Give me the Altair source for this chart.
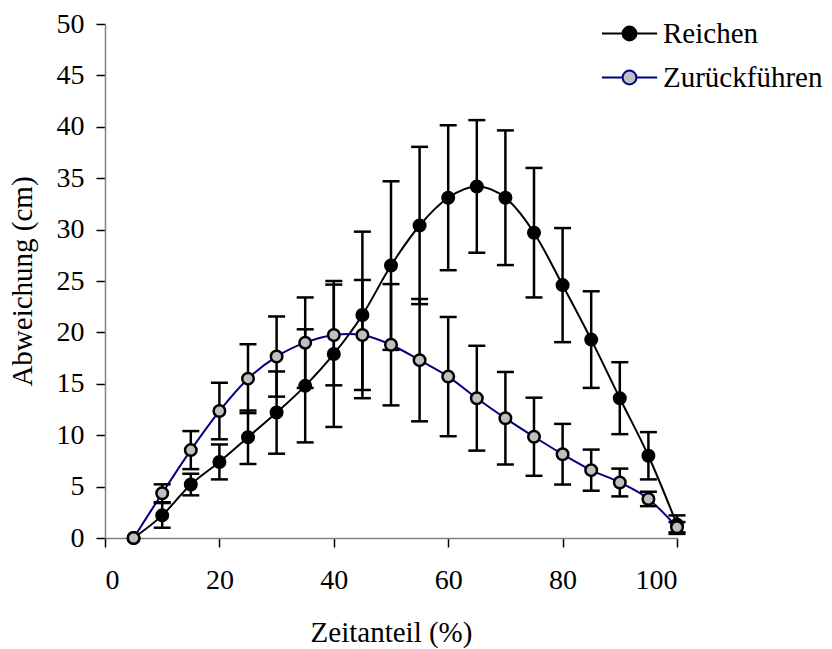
import altair as alt
import pandas as pd

# ---- data ----
zeit = [5, 10, 15, 20, 25, 30, 35, 40, 45, 50, 55, 60, 65, 70, 75, 80, 85, 90, 95, 100]
reichen = [0, 2.2, 5.2, 7.4, 9.8, 12.2, 14.8, 17.9, 21.7, 26.5, 30.4, 33.1, 34.2, 33.1, 29.7, 24.6, 19.3, 13.6, 8.0, 1.3]
reichen_err = [0, 1.2, 1.05, 1.7, 2.6, 4.0, 5.5, 7.1, 8.1, 8.2, 7.65, 7.05, 6.45, 6.55, 6.3, 5.55, 4.7, 3.5, 2.3, 0.9]
zurueck = [0, 4.35, 8.55, 12.35, 15.5, 17.65, 19.0, 19.75, 19.75, 18.8, 17.3, 15.7, 13.6, 11.65, 9.85, 8.15, 6.6, 5.4, 3.8, 1.05]
zurueck_err = [0, 0.87, 1.85, 2.75, 3.35, 3.9, 4.4, 4.9, 5.35, 5.9, 5.95, 5.8, 5.1, 4.5, 3.8, 2.95, 2.0, 1.35, 0.7, 0.5]
series_names = ["Reichen", "Zurückführen"]
x_ticks = [0, 20, 40, 60, 80, 100]
y_ticks = [0, 5, 10, 15, 20, 25, 30, 35, 40, 45, 50]

rows = []
for name, vals, errs in [(series_names[0], reichen, reichen_err), (series_names[1], zurueck, zurueck_err)]:
    for x, v, e in zip(zeit, vals, errs):
        rows.append({"x": x, "v": v, "err": e, "lo": v - e, "hi": v + e, "series": name})
df = pd.DataFrame(rows)

FONT = "'Liberation Serif', 'Times New Roman', serif"
stroke_scale = alt.Scale(domain=series_names, range=["black", "#000080"])
fill_scale = alt.Scale(domain=series_names, range=["black", "#c0c0c0"])

legend = alt.Legend(
    title=None, orient="none", legendX=510, legendY=-5,
    symbolType="M-4,0 L-1,0 M1,0 L4,0 M1,0 A1,1 0 1,1 -1,0 A1,1 0 1,1 1,0 Z",
    symbolSize=190, symbolStrokeWidth=2, labelOffset=19,
    labelFont=FONT, labelFontSize=29, labelColor="black",
    rowPadding=14, padding=0, symbolOpacity=1,
)

xenc = alt.X("x:Q", scale=alt.Scale(domain=[0, 100], nice=False),
             axis=alt.Axis(values=x_ticks, title="Zeitanteil (%)", grid=False,
                           tickSize=9, tickColor="black", tickWidth=1.5,
                           domainColor="#808080", domainWidth=1.5,
                           labelFont=FONT, labelFontSize=28, labelColor="black", labelPadding=19,
                           titleFont=FONT, titleFontSize=29, titleFontWeight="normal", titleColor="black",
                           titleY=80))
yenc = alt.Y("v:Q", scale=alt.Scale(domain=[0, 50], nice=False),
             axis=alt.Axis(values=y_ticks, title="Abweichung (cm)", grid=False,
                           tickSize=9, tickColor="black", tickWidth=1.5,
                           domainColor="#808080", domainWidth=1.5,
                           labelFont=FONT, labelFontSize=28, labelColor="black", labelPadding=12,
                           titleFont=FONT, titleFontSize=29, titleFontWeight="normal", titleColor="black",
                           titleX=-68, titleY=257))

base = alt.Chart(df)
layers = []
for name in series_names:
    b = base.transform_filter(alt.datum.series == name)
    line = b.mark_line(interpolate="cardinal", strokeWidth=2).encode(
        x=xenc, y=yenc,
        stroke=alt.Stroke("series:N", scale=stroke_scale, legend=legend),
    )
    eb = b.transform_filter(alt.datum.err > 0)
    rule = eb.mark_rule(color="black", strokeWidth=2.5).encode(
        x="x:Q", y="lo:Q", y2="hi:Q")
    cap_hi = eb.mark_tick(orient="horizontal", color="black", size=17, thickness=2.5, opacity=1).encode(
        x="x:Q", y="hi:Q")
    cap_lo = eb.mark_tick(orient="horizontal", color="black", size=17, thickness=2.5, opacity=1).encode(
        x="x:Q", y="lo:Q")
    pts = b.mark_point(shape="circle", filled=True, size=133, strokeWidth=2.5, opacity=1).encode(
        x="x:Q", y="v:Q",
        fill=alt.Fill("series:N", scale=fill_scale, legend=legend),
        stroke=alt.value("black"),
    )
    layers += [line, rule, cap_hi, cap_lo, pts]

chart = alt.layer(*layers).properties(
    width=572, height=514,
    padding={"left": 105, "top": 24, "right": 155, "bottom": 111},
    autosize="none",
    background="white",
).configure_view(
    strokeWidth=0, stroke="transparent"
).configure_axis(
    grid=False, tickSize=9, tickColor="black", tickWidth=1.5,
    domainColor="#808080", domainWidth=1.5,
    labelFont=FONT, labelFontSize=28, labelColor="black",
    titleFont=FONT, titleFontSize=29, titleFontWeight="normal", titleColor="black",
)

chart.save("out.html", embed_options={"renderer": "svg", "actions": False})
